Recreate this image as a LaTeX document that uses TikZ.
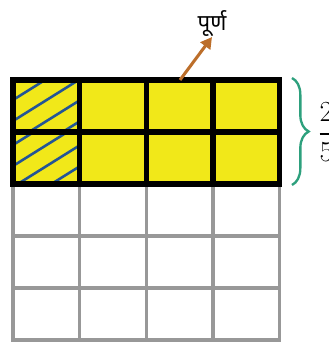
\documentclass[tikz,border=0pt]{standalone}
\usepackage{amsmath}
\usepackage{fontspec}
\newfontfamily\devfont[Script=Devanagari]{Noto Sans}
\usetikzlibrary{arrows.meta,decorations.pathreplacing}
\definecolor{cellyellow}{RGB}{241,232,25}
\definecolor{hatchblue}{RGB}{35,85,150}
\definecolor{arrowbrown}{RGB}{188,110,42}
\definecolor{braceteal}{RGB}{45,160,125}
\definecolor{gridgrey}{RGB}{152,152,152}

\begin{document}
\begin{tikzpicture}[line width=0.8pt,
  hatch/.style={hatchblue,line width=2.2pt},
  greyline/.style={gridgrey,line width=2.8pt},
  blackline/.style={black,line width=4.3pt}]
\useasboundingbox (0,0) rectangle (9.87,10.32);
% yellow part: two rows out of five
\fill[cellyellow] (0.39,4.80) rectangle (8.39,7.92);
% hatched cells in the first column
\begin{scope}
\clip (0.39,6.36) rectangle (2.39,7.92);
\foreach \y in {7.32,6.69,6.06,5.43} \draw[hatch] (0.39,\y) -- ++(32:2.6);
\end{scope}
\begin{scope}
\clip (0.39,4.80) rectangle (2.39,6.36);
\foreach \y in {5.97,5.34,4.71,4.08} \draw[hatch] (0.39,\y) -- ++(32:2.6);
\end{scope}
% lower three rows (grey)
\foreach \x in {2.39,4.39,6.39} \draw[greyline] (\x,0.12) -- (\x,4.80);
\foreach \y in {1.68,3.24} \draw[greyline] (0.39,\y) -- (8.39,\y);
\draw[greyline] (0.39,0.12) rectangle (8.39,4.80);
% upper two rows (black)
\foreach \x in {2.39,4.39,6.39} \draw[blackline] (\x,4.80) -- (\x,7.92);
\draw[blackline] (0.39,6.36) -- (8.39,6.36);
\draw[blackline] (0.39,4.80) rectangle (8.39,7.92);
% label of the whole
\coordinate (foot) at (5.40,7.92);
\node[inner sep=0pt,anchor=south] (purna) at (6.36,9.21) {\fontsize{19}{22}\devfont पूर्ण};
\draw[arrowbrown,line width=2.6pt,-{Triangle[length=3.4mm,width=3.6mm]}] (foot) -- (purna.south);
% brace and fraction
\draw[braceteal,line width=2pt,decorate,decoration={brace,amplitude=0.5cm}] (8.76,7.98) -- (8.76,4.77);
\node[inner sep=0pt,anchor=west] (frac) at (9.53,6.36) {\fontsize{23}{27}\selectfont$\dfrac{2}{5}$};
\end{tikzpicture}
\end{document}
